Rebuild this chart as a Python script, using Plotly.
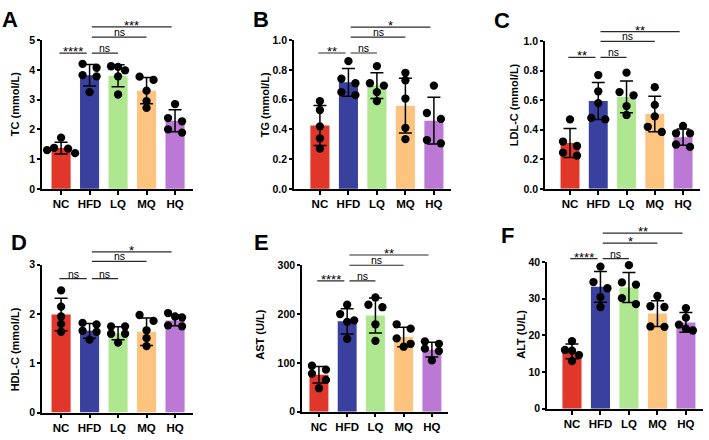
import plotly.graph_objects as go

# ---------------- data ----------------
GROUPS = ["NC", "HFD", "LQ", "MQ", "HQ"]
COLORS = ["#E1372A", "#3A409E", "#AEE78F", "#FDC47F", "#BC78D5"]

TC_MEAN = [1.37, 3.82, 3.80, 3.30, 2.29]
TC_SD = [0.20, 0.36, 0.37, 0.44, 0.37]
TC_DOTS = [[1.72, 1.38, 1.35, 1.30, 1.20], [4.20, 4.07, 3.82, 3.78, 3.25],
           [4.12, 4.10, 3.98, 3.78, 3.17], [3.77, 3.66, 3.30, 2.95, 2.72],
           [2.85, 2.38, 2.27, 2.00, 1.89]]

TG_MEAN = [0.426, 0.716, 0.694, 0.559, 0.458]
TG_SD = [0.135, 0.093, 0.086, 0.184, 0.157]
TG_DOTS = [[0.59, 0.53, 0.42, 0.34, 0.27], [0.858, 0.74, 0.71, 0.65, 0.63],
           [0.825, 0.71, 0.694, 0.65, 0.59], [0.78, 0.73, 0.607, 0.41, 0.334],
           [0.694, 0.51, 0.47, 0.328, 0.306]]

LDL_MEAN = [0.31, 0.594, 0.622, 0.507, 0.35]
LDL_SD = [0.098, 0.125, 0.107, 0.12, 0.055]
LDL_DOTS = [[0.47, 0.32, 0.29, 0.245, 0.225], [0.77, 0.66, 0.58, 0.48, 0.47],
            [0.786, 0.655, 0.633, 0.56, 0.50], [0.688, 0.568, 0.49, 0.42, 0.385],
            [0.426, 0.376, 0.376, 0.30, 0.284]]

HDL_MEAN = [1.99, 1.66, 1.61, 1.64, 1.87]
HDL_SD = [0.33, 0.15, 0.13, 0.28, 0.11]
HDL_DOTS = [[2.48, 2.15, 1.95, 1.80, 1.64], [1.82, 1.79, 1.66, 1.64, 1.48],
            [1.75, 1.75, 1.60, 1.60, 1.42], [1.98, 1.86, 1.67, 1.51, 1.35],
            [2.02, 1.95, 1.93, 1.77, 1.75]]

AST_MEAN = [75.6, 185, 197, 153, 127]
AST_SD = [17, 26, 36, 20, 15]
AST_DOTS = [[94, 86, 78, 65, 48], [219, 200, 187, 184, 149],
            [234, 219, 214, 179, 145], [179, 170, 150, 139, 133],
            [144, 139, 129, 124, 105]]

ALT_MEAN = [15.6, 33.2, 33.0, 25.9, 23.5]
ALT_SD = [2.0, 4.2, 4.1, 3.5, 2.7]
ALT_DOTS = [[18.4, 16.0, 15.8, 14.6, 13.0], [38.7, 34.5, 32.8, 30.4, 27.7],
            [39.1, 34.4, 33.8, 30.1, 28.5], [30.7, 27.9, 27.7, 22.4, 22.3],
            [27.4, 24.8, 22.9, 21.8, 21.3]]

# significance brackets: (group i, group j, height, label)
TC_SIG = [(0, 1, 4.56, "****"), (1, 2, 4.56, "ns"), (1, 3, 5.10, "ns"), (1, 4, 5.44, "***")]
TG_SIG = [(0, 1, 0.913, "**"), (1, 2, 0.913, "ns"), (1, 3, 1.02, "ns"), (1, 4, 1.087, "*")]
LDL_SIG = [(0, 1, 0.889, "**"), (1, 2, 0.889, "ns"), (1, 3, 0.998, "ns"), (1, 4, 1.063, "**")]
HDL_SIG = [(0, 1, 2.72, "ns"), (1, 2, 2.72, "ns"), (1, 3, 3.07, "ns"), (1, 4, 3.26, "*")]
AST_SIG = [(0, 1, 268, "****"), (1, 2, 268, "ns"), (1, 3, 300, "ns"), (1, 4, 321, "**")]
ALT_SIG = [(0, 1, 40.9, "****"), (1, 2, 40.9, "ns"), (1, 3, 45.1, "*"), (1, 4, 47.8, "**")]

Y_TITLES = ["TC (mmol/L)", "TG (mmol/L)", "LDL-C (mmol/L)", "HDL-C (mmol/L)", "AST (U/L)", "ALT (U/L)"]
LETTERS = ["A", "B", "C", "D", "E", "F"]
Y_TICKS = [[0, 1, 2, 3, 4, 5], [0, 0.2, 0.4, 0.6, 0.8, 1.0], [0, 0.2, 0.4, 0.6, 0.8, 1.0],
           [0, 1, 2, 3], [0, 100, 200, 300], [0, 10, 20, 30, 40]]

# ---------------- layout (pixels) ----------------
W, H = 709, 440
PANELS = [
    dict(xl=42, xr=193, y0=188, yt=35, xmin=-0.67, xmax=4.63, ext=5.75, fmt="d"),
    dict(xl=294, xr=451, y0=188, yt=35, xmin=-0.91, xmax=4.6, ext=1.15, fmt=".1f"),
    dict(xl=545, xr=700, y0=188, yt=36, xmin=-0.885, xmax=4.6, ext=1.13, fmt=".1f"),
    dict(xl=42, xr=193, y0=418, yt=266, xmin=-0.67, xmax=4.63, ext=3.42, fmt="d"),
    dict(xl=302, xr=448, y0=417, yt=266.5, xmin=-0.6, xmax=4.57, ext=338, fmt="d"),
    dict(xl=547, xr=703, y0=414, yt=263, xmin=-0.877, xmax=4.6, ext=50.3, fmt="d"),
]
LETTER_POS = [(10, 14), (261, 14), (502, 15), (19, 243), (261, 243), (507, 236)]
YTITLE_POS = [(15, 101), (265, 102), (514, 102), (15, 353), (260, 338), (521, 338)]

FONT = "Liberation Sans, Arial, Helvetica, sans-serif"

DATASETS = [
    (TC_MEAN, TC_SD, TC_DOTS, TC_SIG),
    (TG_MEAN, TG_SD, TG_DOTS, TG_SIG),
    (LDL_MEAN, LDL_SD, LDL_DOTS, LDL_SIG),
    (HDL_MEAN, HDL_SD, HDL_DOTS, HDL_SIG),
    (AST_MEAN, AST_SD, AST_DOTS, AST_SIG),
    (ALT_MEAN, ALT_SD, ALT_DOTS, ALT_SIG),
]


def swarm_offsets(vals, ypx_per_unit, xpx_per_unit, thresh=7.0, step=7.0):
    """GraphPad-like horizontal scatter for points at similar heights."""
    order = sorted(range(len(vals)), key=lambda k: -vals[k])
    rows, cur = [], []
    for k in order:
        if cur and (vals[cur[0]] - vals[k]) * ypx_per_unit >= thresh:
            rows.append(cur)
            cur = []
        cur.append(k)
    if cur:
        rows.append(cur)
    offs = [0.0] * len(vals)
    patterns = {1: [0], 2: [-1, 1], 3: [-1, 0, 1], 4: [-1, 1, -2, 2], 5: [-1, 0, 1, -2, 2]}
    for r in rows:
        for k, pp in zip(r, patterns[len(r)]):
            offs[k] = pp * step / xpx_per_unit
    return offs


fig = go.Figure()
layout = dict(width=W, height=H, margin=dict(l=0, r=0, t=0, b=0),
              paper_bgcolor="white", plot_bgcolor="rgba(0,0,0,0)", showlegend=False,
              font=dict(family=FONT, color="black"))
annotations = []

for p, (pan, (means, sds, dots, sigs)) in enumerate(zip(PANELS, DATASETS)):
    xn = p + 1
    ya_n = 2 * p + 1
    yb_n = 2 * p + 2
    xid, yaid, ybid = f"x{xn}", f"y{ya_n}", f"y{yb_n}"
    top = Y_TICKS[p][-1]
    ypx = (pan["y0"] - pan["yt"]) / top
    xpx = (pan["xr"] - pan["xl"]) / (pan["xmax"] - pan["xmin"])
    ext_px = pan["y0"] - ypx * pan["ext"]

    layout[f"yaxis{yb_n}"] = dict(
        domain=[1 - pan["y0"] / H, 1 - ext_px / H], anchor=xid,
        range=[0, pan["ext"]], visible=False, fixedrange=True)
    layout[f"xaxis{xn}"] = dict(
        domain=[pan["xl"] / W, pan["xr"] / W], anchor=yaid,
        range=[pan["xmin"], pan["xmax"]], tickvals=list(range(5)), ticktext=GROUPS,
        showline=True, linecolor="black", linewidth=1.6, ticks="outside", ticklen=4,
        tickwidth=1.5, tickcolor="black", showgrid=False, zeroline=False,
        tickfont=dict(size=11.5, family=FONT, weight="bold", color="black"), fixedrange=True)
    layout[f"yaxis{ya_n}"] = dict(
        domain=[1 - pan["y0"] / H, 1 - pan["yt"] / H], anchor=xid,
        range=[0, top], tickvals=Y_TICKS[p], tickformat=pan["fmt"],
        showline=True, linecolor="black", linewidth=1.6, ticks="outside", ticklen=3,
        tickwidth=1.5, tickcolor="black", showgrid=False, zeroline=False,
        tickfont=dict(size=10.5, family=FONT, weight="bold", color="black"), fixedrange=True)

    # significance bracket lines (drawn on the taller hidden axis)
    for (i, j, h, lab) in sigs:
        x0 = i + 0.08 if i == 1 else i - 0.06
        x1 = j - 0.1 if j == 1 else (j - 0.12 if j == 4 else j)
        fig.add_trace(go.Scatter(
            x=[x0, x1], y=[h, h], mode="lines", xaxis=xid, yaxis=ybid,
            line=dict(color="#2a2a2a", width=1.2), hoverinfo="skip"))
        star = lab.startswith("*")
        annotations.append(dict(
            x=(x0 + x1) / 2, y=h, xref=xid, yref=ybid, text=lab, showarrow=False,
            xanchor="center", yanchor="bottom", yshift=-8 if star else -3,
            font=dict(size=13 if star else 10.5, family=FONT, color="black")))

    # bars with SD error bars
    fig.add_trace(go.Bar(
        x=list(range(5)), y=means, width=0.67, xaxis=xid, yaxis=yaid,
        marker=dict(color=COLORS, line=dict(width=0)),
        error_y=dict(type="data", array=sds, visible=True, color="black",
                     thickness=1.5, width=6.5),
        cliponaxis=False, hoverinfo="skip"))

    # individual points
    xs, ys = [], []
    for g, vals in enumerate(dots):
        offs = swarm_offsets(vals, ypx, xpx)
        for v, o in zip(vals, offs):
            xs.append(g + o)
            ys.append(v)
    fig.add_trace(go.Scatter(
        x=xs, y=ys, mode="markers", xaxis=xid, yaxis=yaid,
        marker=dict(color="black", size=8.3, line=dict(width=0)),
        cliponaxis=False, hoverinfo="skip"))

    # y-axis title
    tx, ty = YTITLE_POS[p]
    annotations.append(dict(
        x=tx / W, y=1 - ty / H, xref="paper", yref="paper", text=Y_TITLES[p],
        textangle=-90, showarrow=False, xanchor="center", yanchor="middle",
        font=dict(size=11, family=FONT, weight="bold", color="black")))
    # panel letter
    lx, ly = LETTER_POS[p]
    annotations.append(dict(
        x=lx / W, y=1 - ly / H, xref="paper", yref="paper", text=LETTERS[p],
        showarrow=False, xanchor="center", yanchor="middle",
        font=dict(size=22, family=FONT, weight="bold", color="black")))

layout["annotations"] = annotations
fig.update_layout(**layout)
fig.write_html("out.html")
